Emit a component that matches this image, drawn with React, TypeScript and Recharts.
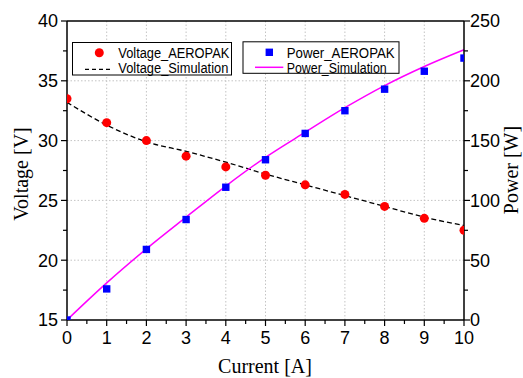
import React from 'react';
import { ComposedChart, Line, XAxis, YAxis, ReferenceLine } from 'recharts';

const current = [0, 1, 2, 3, 4, 5, 6, 7, 8, 9, 10];
const voltageAeropak = [33.5, 31.5, 30.0, 28.7, 27.8, 27.1, 26.3, 25.5, 24.5, 23.5, 22.5];
const voltageSimulation = [33.2, 31.3, 29.9, 29.1, 28.2, 27.2, 26.3, 25.4, 24.5, 23.6, 22.9];
const powerAeropak = [0, 26, 59, 84, 111, 134, 156, 175, 193, 208, 219];
const powerSimulation = [0, 31, 59.5, 86, 112, 136, 157, 177.5, 196, 212, 226];

const xTicks = [0, 0.5, 1, 1.5, 2, 2.5, 3, 3.5, 4, 4.5, 5, 5.5, 6, 6.5, 7, 7.5, 8, 8.5, 9, 9.5, 10];
const vTicks = [15, 17.5, 20, 22.5, 25, 27.5, 30, 32.5, 35, 37.5, 40];
const pTicks = [0, 25, 50, 75, 100, 125, 150, 175, 200, 225, 250];
const gridX = [1, 2, 3, 4, 5, 6, 7, 8, 9];
const gridV = [20, 25, 30, 35];

const data = current.map((c, i) => ({
  x: c,
  vExp: voltageAeropak[i],
  vSim: voltageSimulation[i],
  pExp: powerAeropak[i],
  pSim: powerSimulation[i],
}));

const W = 523;
const H = 378;
const MARGIN = { top: 21, right: 8, bottom: 0, left: 7 };
const LEFT_AXIS_W = 60;
const RIGHT_AXIS_W = 51;
const X_AXIS_H = 58;
const PLOT = {
  x: MARGIN.left + LEFT_AXIS_W,
  y: MARGIN.top,
  w: W - MARGIN.left - MARGIN.right - LEFT_AXIS_W - RIGHT_AXIS_W,
  h: H - MARGIN.top - MARGIN.bottom - X_AXIS_H,
};

const TICK_FONT = 'Liberation Sans, Arial, sans-serif';

const BottomTick = (props: any) => {
  const { x, y, payload } = props;
  const major = Number.isInteger(payload.value);
  return (
    <g>
      <line x1={x} x2={x} y1={y} y2={y + (major ? 6 : 4)} stroke="#000" strokeWidth={1.2} />
      {major && (
        <text x={x} y={y + 24} textAnchor="middle" fontFamily={TICK_FONT} fontSize={18} fill="#000">
          {payload.value}
        </text>
      )}
    </g>
  );
};

const LeftTick = (props: any) => {
  const { x, y, payload } = props;
  const major = payload.value % 5 === 0;
  return (
    <g>
      <line x1={x} x2={x - (major ? 6 : 4)} y1={y} y2={y} stroke="#000" strokeWidth={1.2} />
      {major && (
        <text x={x - 9} y={y} dy="0.36em" textAnchor="end" fontFamily={TICK_FONT} fontSize={18} fill="#000">
          {payload.value}
        </text>
      )}
    </g>
  );
};

const RightTick = (props: any) => {
  const { x, y, payload } = props;
  const major = payload.value % 50 === 0;
  return (
    <g>
      <line x1={x} x2={x + (major ? 6 : 4)} y1={y} y2={y} stroke="#000" strokeWidth={1.2} />
      {major && (
        <text x={x + 6} y={y} dy="0.36em" textAnchor="start" fontFamily={TICK_FONT} fontSize={18} fill="#000">
          {payload.value}
        </text>
      )}
    </g>
  );
};

const RedDot = (p: any) => {
  if (p.cx == null || p.cy == null) return <g key={p.index} />;
  return <circle key={p.index} cx={p.cx} cy={p.cy} r={4.5} fill="#ff0000" clipPath="url(#plotAreaClip)" />;
};

const BlueSquare = (p: any) => {
  if (p.cx == null || p.cy == null) return <g key={p.index} />;
  return (
    <rect
      key={p.index}
      x={p.cx - 3.7}
      y={p.cy - 3.7}
      width={7.4}
      height={7.4}
      fill="#0000ff"
      clipPath="url(#plotAreaClip)"
    />
  );
};

const LEG_FONT = 'Liberation Sans, Arial, sans-serif';

export default function App() {
  return (
    <div style={{ position: 'absolute', left: 0, top: 0, width: W, height: H, background: '#fff' }}>
      <svg width={0} height={0} style={{ position: 'absolute' }}>
        <defs>
          <clipPath id="plotAreaClip" clipPathUnits="userSpaceOnUse">
            <rect x={PLOT.x} y={PLOT.y} width={PLOT.w} height={PLOT.h} />
          </clipPath>
        </defs>
      </svg>
      <ComposedChart width={W} height={H} data={data} margin={MARGIN}>
        <XAxis
          type="number"
          dataKey="x"
          domain={[0, 10]}
          ticks={xTicks}
          interval={0}
          tickSize={0}
          tickMargin={0}
          tickLine={false}
          axisLine={{ stroke: '#000', strokeWidth: 1.5 }}
          tick={<BottomTick />}
          height={X_AXIS_H}
        />
        <YAxis
          yAxisId="v"
          orientation="left"
          type="number"
          domain={[15, 40]}
          ticks={vTicks}
          interval={0}
          tickSize={0}
          tickMargin={0}
          tickLine={false}
          axisLine={{ stroke: '#000', strokeWidth: 1.5 }}
          tick={<LeftTick />}
          width={LEFT_AXIS_W}
        />
        <YAxis
          yAxisId="p"
          orientation="right"
          type="number"
          domain={[0, 250]}
          ticks={pTicks}
          interval={0}
          tickSize={0}
          tickMargin={0}
          tickLine={false}
          axisLine={{ stroke: '#000', strokeWidth: 1.5 }}
          tick={<RightTick />}
          width={RIGHT_AXIS_W}
        />
        {gridX.map((g) => (
          <ReferenceLine key={'gx' + g} x={g} yAxisId="v" stroke="#c4c4c4" strokeDasharray="1.5 2" strokeWidth={1} />
        ))}
        {gridV.map((g) => (
          <ReferenceLine key={'gy' + g} y={g} yAxisId="v" stroke="#c4c4c4" strokeDasharray="1.5 2" strokeWidth={1} />
        ))}
        <ReferenceLine y={40} yAxisId="v" stroke="#000" strokeWidth={1.5} />
        <Line
          yAxisId="v"
          dataKey="vSim"
          type="monotone"
          stroke="#000"
          strokeWidth={1.3}
          strokeDasharray="5 3"
          dot={false}
          activeDot={false}
          isAnimationActive={false}
        />
        <Line
          yAxisId="p"
          dataKey="pSim"
          type="monotone"
          stroke="#ff00ff"
          strokeWidth={1.5}
          dot={false}
          activeDot={false}
          isAnimationActive={false}
        />
        <Line
          yAxisId="v"
          dataKey="vExp"
          stroke="none"
          dot={RedDot}
          activeDot={false}
          isAnimationActive={false}
        />
        <Line
          yAxisId="p"
          dataKey="pExp"
          stroke="none"
          dot={BlueSquare}
          activeDot={false}
          isAnimationActive={false}
        />
      </ComposedChart>
      <svg width={W} height={H} style={{ position: 'absolute', left: 0, top: 0, pointerEvents: 'none' }}>
        <text x={265} y={373} textAnchor="middle" fontFamily="Liberation Serif, Times New Roman, serif" fontSize={20} fill="#000">
          Current [A]
        </text>
        <text
          transform="translate(28,174) rotate(-90)"
          textAnchor="middle"
          fontFamily="Liberation Serif, Times New Roman, serif"
          fontSize={20}
          fill="#000"
        >
          Voltage [V]
        </text>
        <text
          transform="translate(518,170) rotate(-90)"
          textAnchor="middle"
          fontFamily="Liberation Serif, Times New Roman, serif"
          fontSize={20}
          fill="#000"
        >
          Power [W]
        </text>

        <rect x={72.5} y={42.5} width={159} height={32.5} fill="#fff" stroke="#000" strokeWidth={1} />
        <circle cx={99.3} cy={52.7} r={4.5} fill="#ff0000" />
        <line x1={85} x2={110} y1={69.3} y2={69.3} stroke="#000" strokeWidth={1.2} strokeDasharray="4 3" />
        <text x={118.3} y={58.3} fontFamily={LEG_FONT} fontSize={14} textLength={111} lengthAdjust="spacingAndGlyphs" fill="#000">
          Voltage_AEROPAK
        </text>
        <text x={118.3} y={72.8} fontFamily={LEG_FONT} fontSize={14} textLength={110} lengthAdjust="spacingAndGlyphs" fill="#000">
          Voltage_Simulation
        </text>

        <rect x={243} y={41.8} width={156} height={31.5} fill="#fff" stroke="#000" strokeWidth={1} />
        <rect x={265.6} y={48.6} width={7.4} height={7.4} fill="#0000ff" />
        <line x1={255} x2={283.3} y1={67.3} y2={67.3} stroke="#ff00ff" strokeWidth={1.5} />
        <text x={286.7} y={57.8} fontFamily={LEG_FONT} fontSize={14} textLength={108} lengthAdjust="spacingAndGlyphs" fill="#000">
          Power_AEROPAK
        </text>
        <text x={286.7} y={72.6} fontFamily={LEG_FONT} fontSize={14} textLength={100} lengthAdjust="spacingAndGlyphs" fill="#000">
          Power_Simulation
        </text>
      </svg>
    </div>
  );
}
